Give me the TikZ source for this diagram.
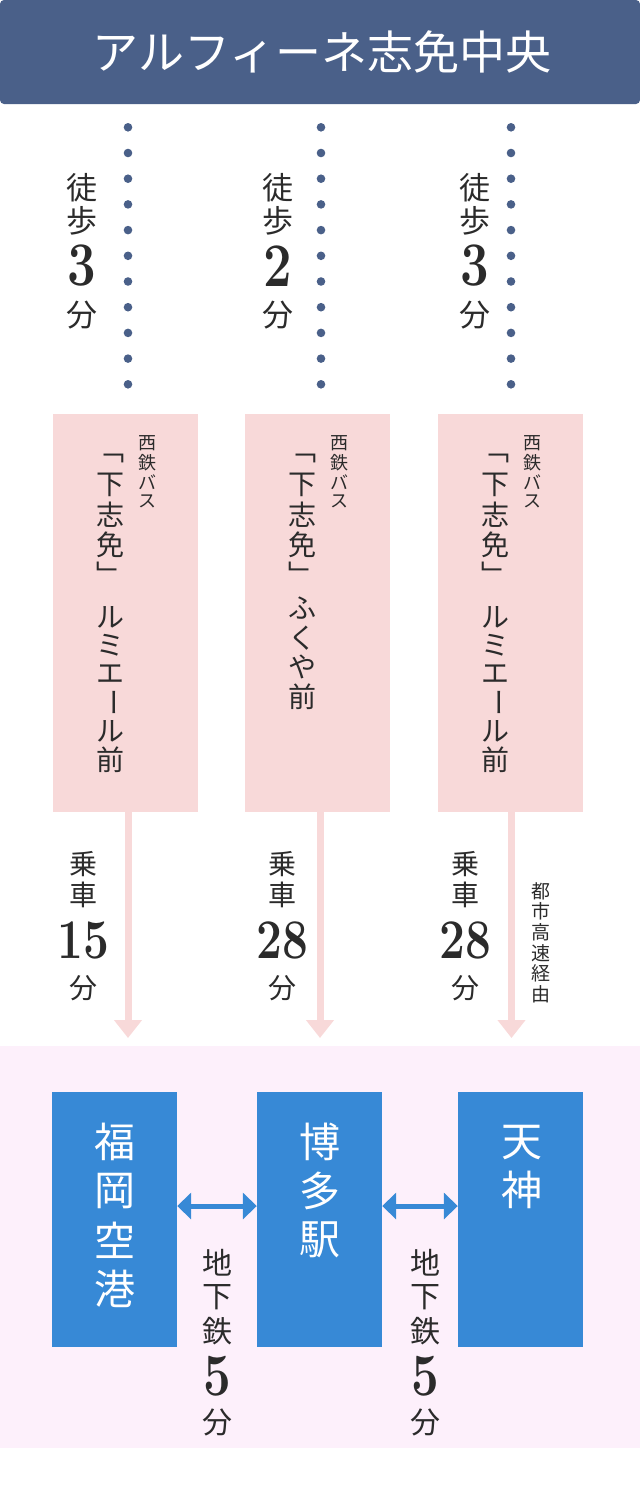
\documentclass[tikz,border=0pt]{standalone}
\usepackage{fontspec}
\newfontfamily\jp{Noto Sans CJK JP}
\usetikzlibrary{arrows.meta}
\definecolor{navy}{HTML}{4A6089}
\definecolor{pinkbox}{HTML}{F8D9D9}
\definecolor{lav}{HTML}{FDF0FB}
\definecolor{blu}{HTML}{3789D6}
\definecolor{ink}{HTML}{2B2B2B}
\newcommand\vchars[6]{\foreach \ch [count=\i from 0] in {#6} {\node[#5] (#1\i) at (#2,{#3+\i*#4}) {\ch};}}
\newcommand\nd[1]{\scalebox{0.82}[1]{#1}}
\tikzset{
  ch/.style={inner sep=0pt, text=ink, anchor=center},
  walkch/.style={ch, font=\jp\fontsize{31}{31}\selectfont},
  walknum/.style={ch, font=\bfseries\fontsize{62}{62}\selectfont},
  ridech/.style={ch, font=\jp\fontsize{28}{28}\selectfont},
  ridenum/.style={ch, font=\bfseries\fontsize{56}{56}\selectfont},
  subch/.style={ch, font=\jp\fontsize{30}{30}\selectfont},
  subnum/.style={ch, font=\bfseries\fontsize{60}{60}\selectfont},
  smallch/.style={ch, font=\jp\fontsize{18}{18}\selectfont},
  tinych/.style={ch, font=\jp\fontsize{19}{19}\selectfont},
  stopch/.style={ch, font=\jp\fontsize{28}{28}\selectfont},
  stationch/.style={ch, text=white, font=\jp\fontsize{41}{41}\selectfont},
  busbox/.style={fill=pinkbox, draw=none, inner sep=0pt, minimum width=145pt, minimum height=398pt},
  stationbox/.style={fill=blu, draw=none, inner sep=0pt, minimum width=125pt, minimum height=255pt},
  busarrow/.style={draw=pinkbox, line width=7pt, -{Triangle[length=18pt,width=27pt]}},
  subway/.style={draw=blu, line width=5pt, {Triangle[length=14pt,width=26pt]}-{Triangle[length=14pt,width=26pt]}},
}
\begin{document}
\begin{tikzpicture}[x=1pt,y=-1pt]
\useasboundingbox (0,0) rectangle (640,1500);
% header
\fill[navy, rounded corners=4pt] (0,0) rectangle (640,104);
\node[inner sep=0pt, text=white, font=\jp\fontsize{46}{46}\selectfont] (title) at (322,52) {アルフィーネ志免中央};
% dotted walk lines
\foreach \xx in {128,321,511} {
  \foreach \k in {0,...,10} { \fill[navy] (\xx,{127.3+25.7*\k}) circle (4.3pt); }
}
% walk labels
\vchars{wa}{82}{188}{33}{walkch}{徒,歩}
\node[walknum] (wan) at (82,266) {\nd{3}};
\node[walkch] (waf) at (82,315) {分};
\vchars{wb}{278}{188}{33}{walkch}{徒,歩}
\node[walknum] (wbn) at (278,266) {\nd{2}};
\node[walkch] (wbf) at (278,315) {分};
\vchars{wc}{475}{188}{33}{walkch}{徒,歩}
\node[walknum] (wcn) at (475,266) {\nd{3}};
\node[walkch] (wcf) at (475,315) {分};
% bus boxes
\node[busbox] (b1) at (125.5,613) {};
\node[busbox] (b2) at (317.5,613) {};
\node[busbox] (b3) at (510.5,613) {};
% bus box texts
\vchars{sa}{147}{443}{19.5}{smallch}{西,鉄,バ,ス}
\vchars{sb}{339}{443}{19.5}{smallch}{西,鉄,バ,ス}
\vchars{sc}{532}{443}{19.5}{smallch}{西,鉄,バ,ス}
\vchars{ka}{110}{458}{0}{stopch}{﹁}
\vchars{kb}{302}{458}{0}{stopch}{﹁}
\vchars{kc}{495}{458}{0}{stopch}{﹁}
\vchars{ma}{110}{485}{30}{stopch}{下,志,免}
\vchars{mb}{302}{485}{30}{stopch}{下,志,免}
\vchars{mc}{495}{485}{30}{stopch}{下,志,免}
\vchars{ea}{110}{574}{0}{stopch}{﹂}
\vchars{eb}{302}{574}{0}{stopch}{﹂}
\vchars{ec}{495}{574}{0}{stopch}{﹂}
\vchars{na}{110}{617}{28.6}{stopch}{ル,ミ,エ,\rotatebox{-90}{ー},ル,前}
\vchars{nb}{302}{608}{29.7}{stopch}{ふ,く,や,前}
\vchars{nc}{495}{617}{28.6}{stopch}{ル,ミ,エ,\rotatebox{-90}{ー},ル,前}
% bus arrows
\coordinate (t1) at (128,1038);
\coordinate (t2) at (320,1038);
\coordinate (t3) at (511.5,1038);
\draw[busarrow] (b1.south -| t1) -- (t1);
\draw[busarrow] (b2.south -| t2) -- (t2);
\draw[busarrow] (b3.south -| t3) -- (t3);
% ride labels
\vchars{ra}{83}{864}{31}{ridech}{乗,車}
\node[ridenum] (ran) at (83,940) {\nd{15}};
\node[ridech] (raf) at (83,988) {分};
\vchars{rb}{282}{864}{31}{ridech}{乗,車}
\node[ridenum] (rbn) at (282,940) {\nd{28}};
\node[ridech] (rbf) at (282,988) {分};
\vchars{rc}{465}{864}{31}{ridech}{乗,車}
\node[ridenum] (rcn) at (465,940) {\nd{28}};
\node[ridech] (rcf) at (465,988) {分};
\vchars{hw}{541}{891}{20.6}{tinych}{都,市,高,速,経,由}
% bottom background
\fill[lav] (0,1046) rectangle (640,1448);
% stations
\node[stationbox] (fuk) at (114.5,1219.5) {};
\node[stationbox] (hak) at (319.5,1219.5) {};
\node[stationbox] (ten) at (520.5,1219.5) {};
\vchars{fk}{114.5}{1142}{49}{stationch}{福,岡,空,港}
\vchars{hk}{320}{1142}{49}{stationch}{博,多,駅}
\vchars{tj}{522}{1143}{47}{stationch}{天,神}
% subway arrows
\coordinate (ya) at (0,1206);
\draw[subway] (fuk.east |- ya) -- (hak.west |- ya);
\draw[subway] (hak.east |- ya) -- (ten.west |- ya);
% subway labels
\vchars{ua}{217}{1263}{34}{subch}{地,下,鉄}
\node[subnum] (uan) at (217,1376) {\nd{5}};
\node[subch] (uaf) at (217,1422) {分};
\vchars{ub}{425}{1263}{34}{subch}{地,下,鉄}
\node[subnum] (ubn) at (425,1376) {\nd{5}};
\node[subch] (ubf) at (425,1422) {分};
\end{tikzpicture}
\end{document}
